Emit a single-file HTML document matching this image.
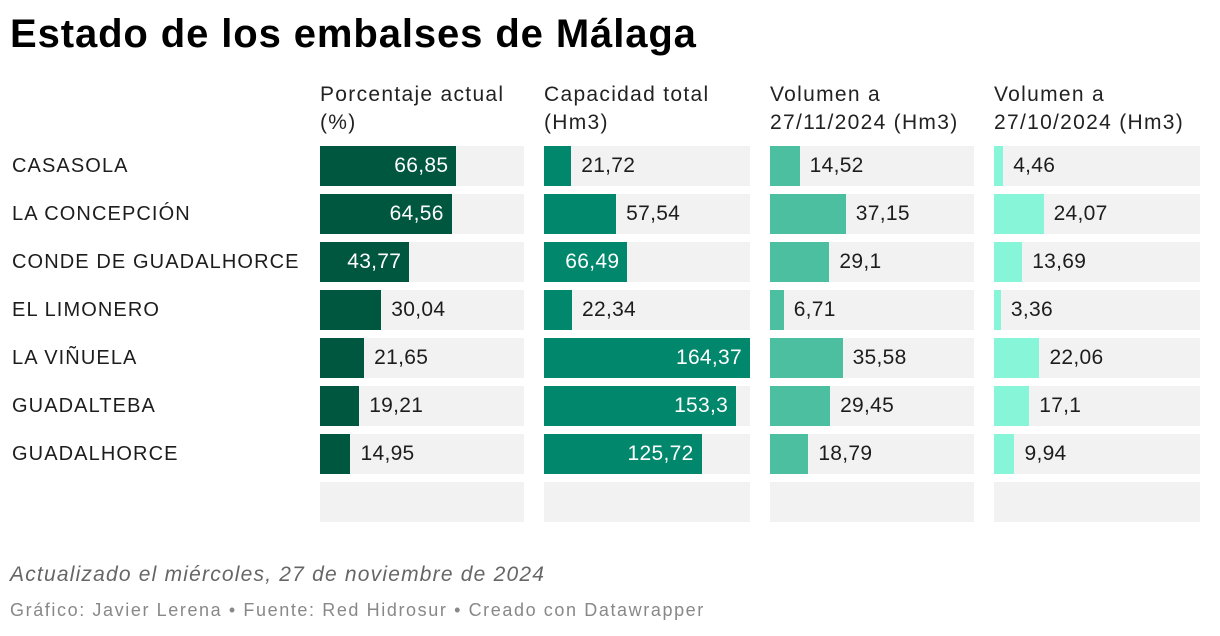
<!DOCTYPE html>
<html><head><meta charset="utf-8"><style>
body{margin:0;width:1220px;height:636px;background:#fff;font-family:"Liberation Sans",Arial,sans-serif;color:#1d1d1d;position:relative;overflow:hidden}
h1{position:absolute;left:10px;top:12px;margin:0;font-size:40px;font-weight:bold;color:#000;letter-spacing:0.9px}
.hd{position:absolute;top:81px;font-size:21px;line-height:28px;color:#222;letter-spacing:1.3px;white-space:nowrap}
.lbl{position:absolute;left:12px;font-size:20px;line-height:40px;color:#1d1d1d;letter-spacing:1.1px}
.bg{position:absolute;height:40px;background:#f2f2f2}
.bar{position:absolute;height:40px}
.val{position:absolute;font-size:21px;line-height:40px;letter-spacing:0.3px}
.foot1{position:absolute;left:10px;top:563px;font-size:21px;font-style:italic;color:#666;letter-spacing:1.2px}
.foot2{position:absolute;left:10px;top:600px;font-size:18px;color:#888;letter-spacing:1.6px}
</style></head><body>
<h1>Estado de los embalses de Málaga</h1>
<div id="chart"></div>
<div class="foot1">Actualizado el miércoles, 27 de noviembre de 2024</div>
<div class="foot2">Gráfico: Javier Lerena • Fuente: Red Hidrosur • Creado con Datawrapper</div>
<script>
const reservoirs=["CASASOLA","LA CONCEPCIÓN","CONDE DE GUADALHORCE","EL LIMONERO","LA VIÑUELA","GUADALTEBA","GUADALHORCE"];
const pct=[66.85,64.56,43.77,30.04,21.65,19.21,14.95];
const capacity=[21.72,57.54,66.49,22.34,164.37,153.3,125.72];
const vol1127=[14.52,37.15,29.1,6.71,35.58,29.45,18.79];
const vol1027=[4.46,24.07,13.69,3.36,22.06,17.1,9.94];
const headers=["Porcentaje actual<br>(%)","Capacidad total<br>(Hm3)","Volumen a<br>27/11/2024 (Hm3)","Volumen a<br>27/10/2024 (Hm3)"];
const cols=[
 {x:320,w:204,max:100,color:"#00573f",data:pct,name:"percent"},
 {x:544,w:206,max:Math.max(...capacity),color:"#00876c",data:capacity,name:"capacity"},
 {x:770,w:204,max:100,color:"#4bbfa0",data:vol1127,name:"volume-nov"},
 {x:994,w:206,max:100,color:"#86f5d8",data:vol1027,name:"volume-oct"}
];
const root=document.getElementById('chart');
function fmt(v){return String(v).replace('.',',');}
function rowY(i){return 146+i*48;}
cols.forEach((c,ci)=>{
 const h=document.createElement('div');h.className='hd';h.style.left=c.x+'px';h.innerHTML=headers[ci];
 
 
 root.appendChild(h);
 for(let i=0;i<=reservoirs.length;i++){
  const bg=document.createElement('div');bg.className='bg';
  bg.style.left=c.x+'px';bg.style.top=rowY(i)+'px';bg.style.width=c.w+'px';
  
  
  root.appendChild(bg);
  if(i==reservoirs.length) continue;
  const v=c.data[i];const bw=v/c.max*c.w;
  const b=document.createElement('div');b.className='bar';
  b.style.left=c.x+'px';b.style.top=rowY(i)+'px';b.style.width=bw+'px';b.style.background=c.color;
  
  
  root.appendChild(b);
  const t=document.createElement('div');t.className='val';t.textContent=fmt(v);t.style.top=rowY(i)+'px';
  if(bw>80){t.style.color='#fff';t.style.left=c.x+'px';t.style.width=(bw-8)+'px';t.style.textAlign='right';}
  else{t.style.color='#1d1d1d';t.style.left=(c.x+bw+10)+'px';}
  
  
  root.appendChild(t);
 }
});
reservoirs.forEach((r,i)=>{
 const l=document.createElement('div');l.className='lbl';l.textContent=r;l.style.top=rowY(i)+'px';
 
 
 root.appendChild(l);
});
</script>
</body></html>
